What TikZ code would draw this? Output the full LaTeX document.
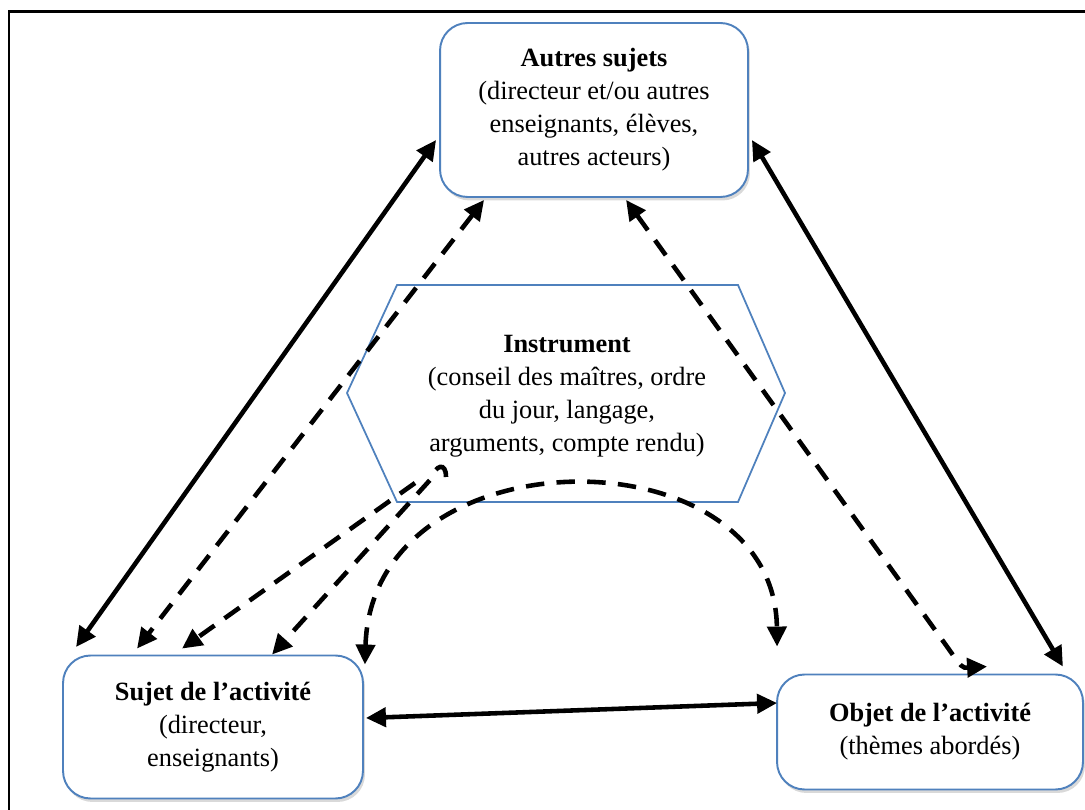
\documentclass[tikz,border=0pt]{standalone}
\usepackage{fontspec}
\setmainfont{Liberation Serif}
\usetikzlibrary{arrows.meta,shadows}
\definecolor{boxblue}{RGB}{79,129,189}
\tikzset{
  actor/.style={draw=boxblue,line width=1.1pt,fill=white,rounded corners=0.55cm,align=center,
    font=\fontsize{15}{18.8}\selectfont,
    drop shadow={shadow xshift=0.04cm,shadow yshift=-0.07cm,opacity=0.3}},
  tool/.style={draw=boxblue,line width=1pt,fill=white},
  tie/.style={line width=2.6pt,<->},
  mediation/.style={tie,dash pattern=on 10.5pt off 7pt},
  >={Triangle[length=0.4cm,width=0.38cm]}
}
\begin{document}
\begin{tikzpicture}[x=0.02cm,y=-0.02cm]
  \useasboundingbox (0,0) rectangle (1085,810);
  \draw[line width=1.7pt] (9,830) -- (9,12) -- (1100,12);
  % the three poles
  \node[actor,minimum width=6.16cm,minimum height=3.48cm] (autres) at (594,110)
    {\textbf{Autres sujets}\\(directeur et/ou autres\\enseignants, élèves,\\autres acteurs)};
  \node[actor,minimum width=6cm,minimum height=2.86cm] (sujet) at (213,727)
    {\textbf{Sujet de l’activité}\\(directeur,\\enseignants)};
  \node[actor,minimum width=6.12cm,minimum height=2.3cm] (objet) at (930,732)
    {\textbf{Objet de l’activité}\\(thèmes abordés)};
  % instrument
  \draw[tool] (397,285) -- (738,285) -- (785,393) -- (738,502) -- (397,502) -- (347,393) -- cycle;
  \node[align=center,font=\fontsize{15}{18.8}\selectfont] (instrument) at (567,396)
    {\textbf{Instrument}\\(conseil des maîtres, ordre\\du jour, langage,\\arguments, compte rendu)};
  \coordinate (a1) at (415,483);
  \coordinate (b1) at (446,477);
  % solid links
  \draw[tie] ([shift={(14,-7.5)}]sujet.north west) -- ([shift={(-3,30)}]autres.west);
  \draw[tie] ([shift={(3,30)}]autres.east) -- ([shift={(-21,-7)}]objet.north east);
  \draw[tie] ([shift={(2,-9)}]sujet.east) -- ([shift={(1,-29)}]objet.west);
  % mediated links
  \draw[mediation] ([shift={(45,2)}]autres.south west) -- ([shift={(75,-6)}]sujet.north west);
  \draw[mediation] ([shift={(187,2)}]autres.south west) -- (948,648)
    .. controls (962,668) .. ([shift={(211,-7)}]objet.north west);
  \draw[mediation,-{>}] (a1) -- ([shift={(120,-6)}]sujet.north west);
  \draw[mediation,-{>}] (b1) .. controls (446,462) and (436,464) .. (430,480)
    -- ([shift={(210,0)}]sujet.north west);
  \draw[mediation] ([shift={(1,10)}]sujet.north east)
    .. controls (372,430) and (775,430) .. ([shift={(1,-27)}]objet.north west);
\end{tikzpicture}
\end{document}
